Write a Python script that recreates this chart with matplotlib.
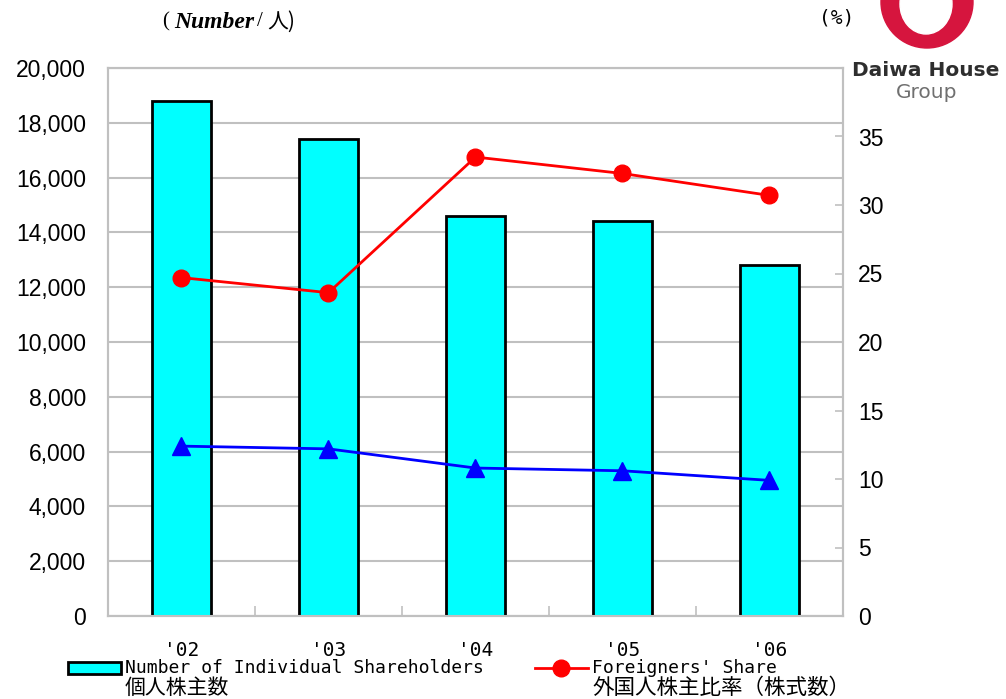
import numpy as np
import matplotlib
matplotlib.use("Agg")
import matplotlib.pyplot as plt
from matplotlib.patches import Rectangle, Circle, Ellipse
from matplotlib.lines import Line2D

# data
years = ["'02", "'03", "'04", "'05", "'06"]
shareholders = [18800, 17400, 14600, 14400, 12800]
foreign_share = [24.7, 23.6, 33.5, 32.3, 30.7]
individual_share = [12.4, 12.2, 10.8, 10.6, 9.9]
left_ticks = [0, 2000, 4000, 6000, 8000, 10000, 12000, 14000, 16000, 18000, 20000]
right_ticks = [0, 5, 10, 15, 20, 25, 30, 35]

W, H = 1006, 699
fig = plt.figure(figsize=(W / 100, H / 100), dpi=100)

# overlay in pixel coordinates for logo and legend
ov = fig.add_axes([0, 0, 1, 1])
ov.set_xlim(0, W)
ov.set_ylim(H, 0)
ov.axis('off')

gray = '#c0c0c0'
x = np.arange(len(years))

ax = fig.add_axes([108 / W, (H - 616) / H, (843 - 108) / W, (616 - 68) / H])
ax.bar(x, shareholders, width=0.395, color='#00ffff', edgecolor='black', linewidth=2, zorder=3)
ax.set_xlim(-0.5, 4.5)
ax.set_ylim(0, 20000)
ax.set_yticks(left_ticks)
ax.set_yticklabels(['{:,}'.format(v) for v in left_ticks],
                   fontsize=16.5, family='Liberation Sans')
ax.yaxis.grid(True, color=gray, linewidth=1.5, zorder=0)
ax.set_axisbelow(True)
ax.tick_params(axis='y', length=0, pad=16)
ax.set_xticks(x)
ax.set_xticklabels(years, fontsize=14, family='DejaVu Sans Mono')
ax.set_xticks(np.arange(0.5, 4.5, 1), minor=True)
ax.tick_params(axis='x', which='major', length=0, pad=18)
ax.tick_params(axis='x', which='minor', direction='in', length=7, color=gray, width=1.2)
for s in ax.spines.values():
    s.set_color(gray)
    s.set_linewidth(1.5)

ax2 = ax.twinx()
ax2.plot(x, foreign_share, color='red', linewidth=2, marker='o', markersize=12, zorder=4)
ax2.plot(x, individual_share, color='blue', linewidth=2, marker='^', markersize=13, zorder=4)
ax2.set_ylim(0, 40)
ax2.set_yticks(right_ticks)
ax2.set_yticklabels([str(v) for v in right_ticks], fontsize=16.5, family='Liberation Sans')
ax2.tick_params(axis='y', direction='in', length=6, color=gray, width=1.2, pad=11)
for s in ax2.spines.values():
    s.set_color(gray)
    s.set_linewidth(1.5)

# axis unit labels
ov.text(162, 22, '(', fontsize=15, family='Liberation Serif', va='center', ha='left')
ov.text(174, 22, 'Number', fontsize=17, family='Liberation Serif', weight='bold',
        style='italic', va='center', ha='left')
ov.text(257, 22, '/', fontsize=15, family='Liberation Serif', va='center', ha='left')
ov.text(267, 22, '人)', fontsize=15, family=['Noto Sans CJK JP', 'DejaVu Sans'],
        va='center', ha='left')
ov.text(819, 18, '(%)', fontsize=14, family='DejaVu Sans Mono', va='center', ha='left')

# logo
ov.add_patch(Circle((927, 2), 46, color='#d6153e', zorder=1))
ov.add_patch(Ellipse((926, 4), 52, 60, color='white', zorder=2))
ov.text(926, 71, 'Daiwa House', fontsize=14.5, weight='bold', color='#2e2e2e',
        family='DejaVu Sans', ha='center', va='center')
ov.text(927, 92, 'Group', fontsize=14.5, color='#707070', family='DejaVu Sans',
        ha='center', va='center')

# legend
mono_cjk = ['DejaVu Sans Mono', 'Noto Sans CJK JP']
cjk = ['Noto Sans CJK JP', 'DejaVu Sans']
ov.add_patch(Rectangle((68, 662), 53, 12, facecolor='#00ffff', edgecolor='black', linewidth=2))
ov.text(125, 668, 'Number of Individual Shareholders', fontsize=13, family=mono_cjk,
        va='center', ha='left')
ov.text(125, 688, '個人株主数', fontsize=15, family=cjk, va='center', ha='left')
ov.add_line(Line2D([535, 588], [668, 668], color='red', linewidth=2))
ov.add_line(Line2D([561], [668], color='red', marker='o', markersize=12))
ov.text(592, 668, "Foreigners' Share", fontsize=13, family=mono_cjk, va='center', ha='left')
ov.text(592, 688, '外国人株主比率（株式数）', fontsize=15.5, family=cjk,
        va='center', ha='left')

fig.savefig('out.png', dpi=100)
